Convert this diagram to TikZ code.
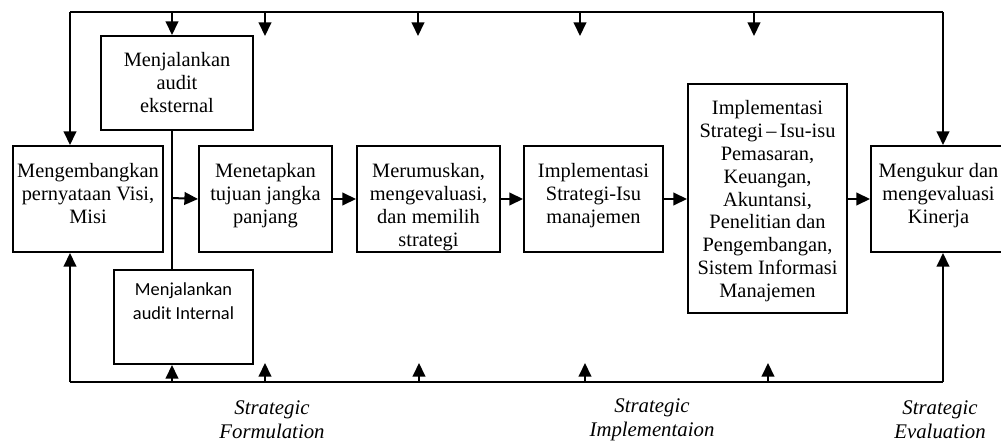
\documentclass[tikz,border=0pt]{standalone}
\usepackage{fontspec}
\setmainfont{Liberation Serif}
\newfontfamily\carl{Carlito}
\usetikzlibrary{arrows.meta}
\newcommand\ml[1]{\begin{tabular}[t]{@{}c@{}}#1\end{tabular}}
\begin{document}
\begin{tikzpicture}[x=0.5pt,y=-0.5pt,
  box/.style={draw, line width=1pt, anchor=north west, inner sep=0pt,
    text height=15.5pt, font=\fontsize{10.2}{11.5}\selectfont},
  arr/.style={line width=1pt, -{Triangle[width=6.3pt,length=6.8pt]}},
  ln/.style={line width=1pt},
  lab/.style={align=center, inner sep=0pt, font=\fontsize{10.4}{12}\selectfont\itshape}]
\useasboundingbox (0,0) rectangle (1001,444);

% boxes
\node[box, minimum width=76pt, text depth=31.5pt] (ext) at (100,35) {\ml{Menjalankan\\audit\\eksternal}};
\node[box, minimum width=75pt, text depth=37.5pt] (visi) at (12,145) {\ml{Mengembangkan\\pernyataan Visi,\\Misi}};
\node[box, minimum width=66.5pt, text depth=37.5pt] (tujuan) at (198,145) {\ml{Menetapkan\\tujuan jangka\\panjang}};
\node[box, minimum width=71.5pt, text depth=37.5pt] (rumus) at (356,145) {\ml{Merumuskan,\\mengevaluasi,\\dan memilih\\strategi}};
\node[box, minimum width=69.5pt, text depth=37.5pt] (impl) at (523,145) {\ml{Implementasi\\Strategi-Isu\\manajemen}};
\node[box, minimum width=79.5pt, text depth=99pt, font=\fontsize{10.2}{11.4}\selectfont] (big) at (687,83) {\ml{Implementasi\\Strategi\,--\,Isu-isu\\Pemasaran,\\Keuangan,\\Akuntansi,\\Penelitian dan\\Pengembangan,\\Sistem Informasi\\Manajemen}};
\node[box, minimum width=67.5pt, text depth=37.5pt] (ukur) at (870,145) {\ml{Mengukur dan\\mengevaluasi\\Kinerja}};
\node[box, minimum width=69.5pt, text height=12.5pt, text depth=34.5pt, font=\carl\fontsize{9.2}{12}\selectfont] (int) at (113,269) {\ml{Menjalankan\\audit Internal}};

% frame coordinates
\coordinate (tl) at (70,12);
\coordinate (tr) at (943,12);
\coordinate (bl) at (70,382);
\coordinate (br) at (943,382);
\coordinate (t1) at (172,12);
\coordinate (b1) at (172,382);
\coordinate (j) at (172,198);

% top feedback line
\draw[ln] (tl) -- (tr);
\draw[arr] (tl) -- (tl |- visi.north);
\draw[arr] (tr) -- (tr |- ukur.north);
\draw[arr] (t1) -- (t1 |- ext.north);
\foreach \x [count=\i from 2] in {265,418,580,754}{
  \coordinate (ts\i) at (\x,12);
  \coordinate (te\i) at (\x,36);
  \draw[arr] (ts\i) -- (te\i);
}

% bottom feedback line
\draw[ln] (bl) -- (br);
\draw[arr] (bl) -- (bl |- visi.south);
\draw[arr] (br) -- (br |- ukur.south);
\draw[arr] (b1) -- (b1 |- int.south);
\foreach \x [count=\i from 2] in {265,419,585,768}{
  \coordinate (bs\i) at (\x,382);
  \coordinate (be\i) at (\x,363);
  \draw[arr] (bs\i) -- (be\i);
}

% audit connector
\draw[ln] (t1 |- ext.south) -- (t1 |- int.north);
\draw[arr] (j) -- (tujuan.west);

% main flow
\draw[arr] (tujuan.east) -- (rumus.west);
\draw[arr] (rumus.east) -- (impl.west);
\draw[arr] (impl.east) -- (impl.east -| big.west);
\draw[arr] (impl.east -| big.east) -- (ukur.west);

% labels
\node[lab] (lf) at (272,420) {Strategic\\Formulation};
\node[lab] (li) at (652,420) {Strategic\\Implementaion};
\node[lab] (le) at (940,420) {Strategic\\Evaluation};
\end{tikzpicture}
\end{document}
